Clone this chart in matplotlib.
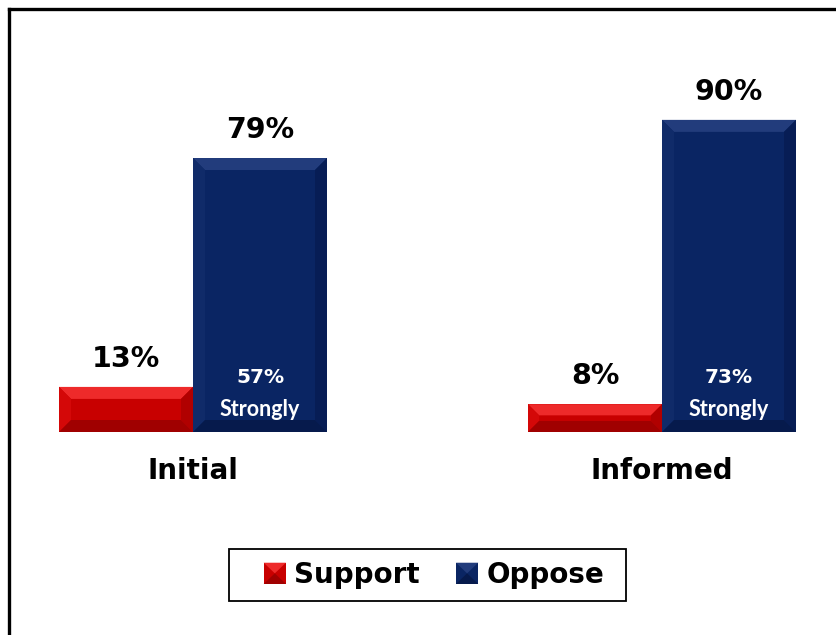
import matplotlib
matplotlib.use("Agg")
import matplotlib.pyplot as plt
from matplotlib.patches import Polygon, Patch, Rectangle
from matplotlib.lines import Line2D
from matplotlib.legend_handler import HandlerBase
import numpy as np

categories = ["Initial", "Informed"]
support = [13, 8]
oppose = [79, 90]
strongly = [57, 73]
series_names = ["Support", "Oppose"]

RED = "#C80000"
RED_TOP = "#EE2A2A"
RED_SIDE_L = "#D40808"
RED_SIDE_R = "#B00000"
RED_BOT = "#A00000"
BLUE = "#0A2563"
BLUE_TOP = "#223C7C"
BLUE_SIDE_L = "#102B69"
BLUE_SIDE_R = "#071D55"
BLUE_BOT = "#061A4C"

W, H = 836, 635
fig = plt.figure(figsize=(W / 100, H / 100), dpi=100)
fig.patch.set_facecolor("white")

ax_left, ax_right, ax_top, ax_base = 20, 830, 40, 432
ax = fig.add_axes([ax_left / W, 1 - ax_base / H, (ax_right - ax_left) / W, (ax_base - ax_top) / H])
group_px = 469.0
val_px = 3.468
ax.set_xlim((ax_left - 193) / group_px, (ax_right - 193) / group_px)
ax.set_ylim(0, (ax_base - ax_top) / val_px)

x = np.arange(len(categories))
w = 134 / group_px

def bevel(ax, left, width, height, cols):
    top_c, l_c, r_c, b_c = cols
    bpx = min(12.0, height * val_px * 0.4)
    bx = bpx / group_px
    by = bpx / val_px
    l, r, t = left, left + width, height
    polys = [
        ([(l, t), (r, t), (r - bx, t - by), (l + bx, t - by)], top_c),
        ([(l, 0), (l, t), (l + bx, t - by), (l + bx, by)], l_c),
        ([(r, 0), (r, t), (r - bx, t - by), (r - bx, by)], r_c),
        ([(l, 0), (r, 0), (r - bx, by), (l + bx, by)], b_c),
    ]
    for pts, c in polys:
        ax.add_patch(Polygon(pts, closed=True, facecolor=c, edgecolor="none", zorder=3))

bars_s = ax.bar(x - w / 2, support, w, color=RED, zorder=2, edgecolor="none")
bars_o = ax.bar(x + w / 2, oppose, w, color=BLUE, zorder=2, edgecolor="none")
for b in bars_s:
    bevel(ax, b.get_x(), b.get_width(), b.get_height(), (RED_TOP, RED_SIDE_L, RED_SIDE_R, RED_BOT))
for b in bars_o:
    bevel(ax, b.get_x(), b.get_width(), b.get_height(), (BLUE_TOP, BLUE_SIDE_L, BLUE_SIDE_R, BLUE_BOT))

for b, v in zip(list(bars_s) + list(bars_o), support + oppose):
    ax.annotate(f"{v}%", (b.get_x() + b.get_width() / 2, b.get_height()),
                xytext=(0, 20), textcoords="offset points", ha="center", va="center",
                fontsize=20.5, fontweight="bold", color="black", zorder=5)

for b, s in zip(bars_o, strongly):
    cx = b.get_x() + b.get_width() / 2
    ax.annotate(f"{s}%", (cx, 0), xytext=(0, 39), textcoords="offset points",
                ha="center", va="center", fontsize=14.5, fontweight="bold",
                color="white", zorder=5)
    ax.annotate("Strongly", (cx, 0), xytext=(0, 16), textcoords="offset points",
                ha="center", va="center", fontsize=15.5, fontweight="bold",
                family="Lato", color="white", zorder=5)

ax.set_xticks(x)
ax.set_xticklabels(categories, fontsize=20, fontweight="bold")
ax.tick_params(axis="x", length=0, pad=18)
ax.set_yticks([])
for s in ax.spines.values():
    s.set_visible(False)
ax.patch.set_alpha(0)


class BevelHandler(HandlerBase):
    def __init__(self, cols):
        super().__init__()
        self.cols = cols

    def create_artists(self, legend, orig_handle, xdescent, ydescent, width, height, fontsize, trans):
        base, top_c, bot_c = self.cols
        x0, y0 = -xdescent, -ydescent
        x1, y1 = x0 + width, y0 + height
        xm, ym = (x0 + x1) / 2, (y0 + y1) / 2
        arts = [Rectangle((x0, y0), width, height, facecolor=base, edgecolor="none", transform=trans),
                Polygon([(x0, y1), (x1, y1), (xm, ym)], closed=True, facecolor=top_c,
                        edgecolor="none", transform=trans),
                Polygon([(x0, y0), (x1, y0), (xm, ym)], closed=True, facecolor=bot_c,
                        edgecolor="none", transform=trans)]
        return arts


h_s = Patch(facecolor=RED, label=series_names[0])
h_o = Patch(facecolor=BLUE, label=series_names[1])
leg = fig.legend(handles=[h_s, h_o], loc="center", bbox_to_anchor=(434 / W, 1 - 575 / H),
                 ncol=2, frameon=False,
                 prop={"weight": "bold", "size": 20},
                 handlelength=0.8, handleheight=0.8, handletextpad=0.3,
                 columnspacing=1.3, borderpad=0.3, borderaxespad=0,
                 handler_map={h_s: BevelHandler((RED, RED_TOP, RED_BOT)),
                              h_o: BevelHandler((BLUE, BLUE_TOP, BLUE_BOT))})
fig.add_artist(Rectangle((229 / W, 1 - 601 / H), (626 - 229) / W, 52 / H,
                         transform=fig.transFigure, facecolor="none",
                         edgecolor="black", lw=1.3))

fig.add_artist(Line2D([9 / W, 9 / W], [0, 1 - 9 / H], color="black", lw=2.4,
                      transform=fig.transFigure, solid_capstyle="projecting"))
fig.add_artist(Line2D([9 / W, 1], [1 - 9 / H, 1 - 9 / H], color="black", lw=2.4,
                      transform=fig.transFigure, solid_capstyle="projecting"))

fig.savefig("out.png", dpi=100, facecolor="white")
